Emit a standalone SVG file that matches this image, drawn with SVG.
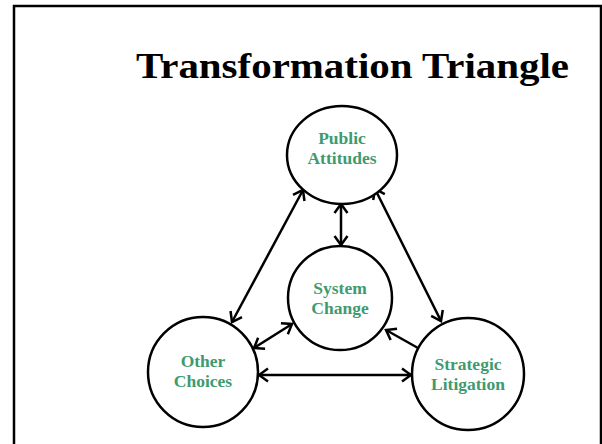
<svg xmlns="http://www.w3.org/2000/svg" width="602" height="444" viewBox="0 0 602 444">
  <style>
    .frame { fill: #ffffff; stroke: #000000; stroke-width: 2.5; }
    .title { font-family: "Liberation Serif", "DejaVu Serif", serif; font-weight: bold; font-size: 36px; fill: #000000; }
    .node circle, .node ellipse { fill: #ffffff; stroke: #000000; stroke-width: 2.5; }
    .label { font-family: "Liberation Serif", "DejaVu Serif", serif; font-weight: bold; font-size: 17.5px; fill: #3e9a6f; text-anchor: middle; }
    .link { stroke: #000000; stroke-width: 2.5; fill: none; }
  </style>
  <defs>
    <marker id="arrow" markerUnits="userSpaceOnUse" markerWidth="14" markerHeight="16" viewBox="-12 -8 14 16" refX="0" refY="0" orient="auto-start-reverse">
      <path d="M -9 -6.5 L 0 0 L -9 6.5" fill="none" stroke="#000000" stroke-width="2.5" stroke-linejoin="miter"/>
    </marker>
  </defs>

  <rect width="602" height="444" fill="#ffffff"/>
  <rect class="frame" x="14" y="6" width="587" height="460"/>

  <text class="title" x="136" y="78" textLength="433" lengthAdjust="spacingAndGlyphs">Transformation Triangle</text>

  <g id="connectors">
    <line class="link" x1="341" y1="204" x2="341" y2="245" marker-start="url(#arrow)" marker-end="url(#arrow)"/>
    <line class="link" x1="303" y1="190" x2="232" y2="322" marker-start="url(#arrow)" marker-end="url(#arrow)"/>
    <line class="link" x1="375" y1="189" x2="441" y2="321" marker-start="url(#arrow)" marker-end="url(#arrow)"/>
    <line class="link" x1="254" y1="348" x2="292" y2="324" marker-start="url(#arrow)" marker-end="url(#arrow)"/>
    <line class="link" x1="418" y1="348" x2="386" y2="330" marker-end="url(#arrow)"/>
    <line class="link" x1="259" y1="375" x2="411" y2="375" marker-start="url(#arrow)" marker-end="url(#arrow)"/>
  </g>

  <g id="public-attitudes" class="node">
    <ellipse cx="342" cy="155" rx="55" ry="49"/>
    <text class="label" x="342" y="144">Public</text>
    <text class="label" x="342" y="164">Attitudes</text>
  </g>

  <g id="system-change" class="node">
    <circle cx="340" cy="298" r="52"/>
    <text class="label" x="340" y="294">System</text>
    <text class="label" x="340" y="314">Change</text>
  </g>

  <g id="other-choices" class="node">
    <circle cx="203" cy="372" r="55"/>
    <text class="label" x="203" y="367">Other</text>
    <text class="label" x="203" y="387">Choices</text>
  </g>

  <g id="strategic-litigation" class="node">
    <circle cx="468" cy="374" r="56"/>
    <text class="label" x="468" y="370">Strategic</text>
    <text class="label" x="468" y="390">Litigation</text>
  </g>
</svg>
